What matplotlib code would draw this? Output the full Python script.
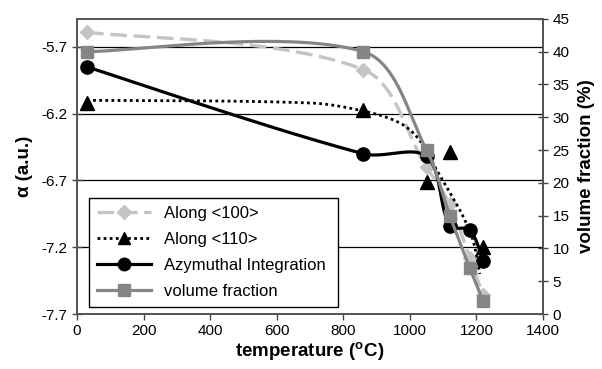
import numpy as np
import matplotlib
matplotlib.use("Agg")
import matplotlib.pyplot as plt
from matplotlib.lines import Line2D

plt.rcParams['font.family'] = ['Liberation Sans', 'DejaVu Sans']

# data
temps = [30, 860, 1050, 1120, 1180, 1220]
along100 = [-5.59, -5.87, -6.60, -6.88, -7.28, -7.56]
azym = [-5.85, -6.50, -6.52, -7.04, -7.07, -7.30]
vol_frac = [40, 40, 25, 15, 7, 2]

temps110 = [30, 860, 1050, 1120, 1220]
along110 = [-6.12, -6.17, -6.71, -6.49, -7.20]
# dotted trend drawn for <110>
trend_t = [30, 700, 860, 970, 1030, 1080, 1120, 1160, 1190, 1210]
trend_a = [-6.10, -6.12, -6.18, -6.27, -6.40, -6.62, -6.79, -6.97, -7.15, -7.40]

alpha_ticks = [-7.7, -7.2, -6.7, -6.2, -5.7]
vol_ticks = [0, 5, 10, 15, 20, 25, 30, 35, 40, 45]
t_ticks = [0, 200, 400, 600, 800, 1000, 1200, 1400]


def smooth(x, y, sx, sy, n=40):
    # excel style smoothed line (bezier through points),
    # tangents weighted by segment length in screen units
    p = np.column_stack([x, y]).astype(float)
    q = p * [sx, sy]
    out = []
    for i in range(len(p) - 1):
        i0, i3 = max(i - 1, 0), min(i + 2, len(p) - 1)
        d01 = np.hypot(*(q[i] - q[i0]))
        d12 = np.hypot(*(q[i + 1] - q[i]))
        d23 = np.hypot(*(q[i3] - q[i + 1]))
        f1 = d12 / (d01 + d12) / 3 if i0 != i else 1 / 6
        f2 = d12 / (d12 + d23) / 3 if i3 != i + 1 else 1 / 6
        p1, p2 = p[i], p[i + 1]
        c1 = p1 + (p2 - p[i0]) * f1
        c2 = p2 - (p[i3] - p1) * f2
        t = np.linspace(0, 1, n)[:, None]
        seg = ((1 - t) ** 3) * p1 + 3 * ((1 - t) ** 2) * t * c1 + 3 * (1 - t) * t ** 2 * c2 + t ** 3 * p2
        out.append(seg if i == 0 else seg[1:])
    s = np.vstack(out)
    return s[:, 0], s[:, 1]


fig = plt.figure(figsize=(6.02, 3.69), dpi=100)
ax = fig.add_axes([0.128, 0.149, 0.774, 0.800])
ax2 = ax.twinx()

lgray = '#c4c4c4'
mgray = '#858585'
kx = 466 / 1400   # px per degree
ka = 133.5        # px per alpha unit
kv = 6.56         # px per percent

sx, sy = smooth(temps, along100, kx, ka)
ax.plot(sx, sy, color=lgray, lw=2.4, ls=(0, (5, 2)), zorder=3)
ax.plot(temps, along100, ls='none', marker='D', ms=7, color=lgray, zorder=3)

sx, sy = smooth(trend_t, trend_a, kx, ka)
ax.plot(sx, sy, color='black', lw=2.0, ls=(0, (1, 1.2)), zorder=4)
ax.plot(temps110, along110, ls='none', marker='^', ms=10, color='black', zorder=4)

sx, sy = smooth(temps, azym, kx, ka)
ax.plot(sx, sy, color='black', lw=2.3, zorder=5)
ax.plot(temps, azym, ls='none', marker='o', ms=9.5, color='black', zorder=5)

sx, sy = smooth(temps, vol_frac, kx, kv)
ax2.plot(sx, sy, color=mgray, lw=2.3, zorder=3)
ax2.plot(temps, vol_frac, ls='none', marker='s', ms=9, color=mgray, zorder=3)

ax.set_xlim(0, 1400)
ax.set_ylim(-7.7, -5.49)
ax2.set_ylim(0, 45)
ax.set_xticks(t_ticks)
ax.set_yticks(alpha_ticks)
ax.set_yticklabels([f'{v:.1f}' for v in alpha_ticks])
ax2.set_yticks(vol_ticks)
ax.grid(axis='y', color='black', lw=0.9)
ax.set_axisbelow(True)

ax.tick_params(axis='y', direction='inout', length=7, width=1, labelsize=11, color='#444444')
ax.tick_params(axis='x', direction='out', length=4, width=1, labelsize=11, color='#444444')
ax2.tick_params(axis='y', direction='inout', length=7, width=1, labelsize=11, color='#444444')
for a in (ax, ax2):
    for side in a.spines:
        a.spines[side].set_color('#555555')
        a.spines[side].set_linewidth(1.3)
ax.spines['top'].set_color('#888888')

ax.set_xlabel(r'temperature ($\mathregular{^o}$C)', fontsize=13.5, fontweight='bold', labelpad=1)
ax.set_ylabel('α (a.u.)', fontsize=13.5, fontweight='bold', labelpad=6)
ax2.set_ylabel('volume fraction (%)', fontsize=13.5, fontweight='bold', labelpad=6)

handles = [
    Line2D([], [], color=lgray, lw=2.4, ls=(0, (5, 2)), marker='D', ms=7),
    Line2D([], [], color='black', lw=2.0, ls=(0, (1, 1.2)), marker='^', ms=9),
    Line2D([], [], color='black', lw=2.3, marker='o', ms=9),
    Line2D([], [], color=mgray, lw=2.3, marker='s', ms=9),
]
labels = ['Along <100>', 'Along <110>', 'Azymuthal Integration', 'volume fraction']
leg = ax2.legend(handles, labels, loc='lower left', bbox_to_anchor=(0.148, 0.168, 0.414, 0.314),
                 bbox_transform=fig.transFigure, mode='expand', fontsize=12, frameon=True,
                 fancybox=False, edgecolor='black', framealpha=1, handlelength=3.2,
                 borderpad=0.5, labelspacing=0.65, borderaxespad=0)
leg.get_frame().set_linewidth(1.0)
leg.set_zorder(10)

fig.savefig('out.png', dpi=100, facecolor='white')
